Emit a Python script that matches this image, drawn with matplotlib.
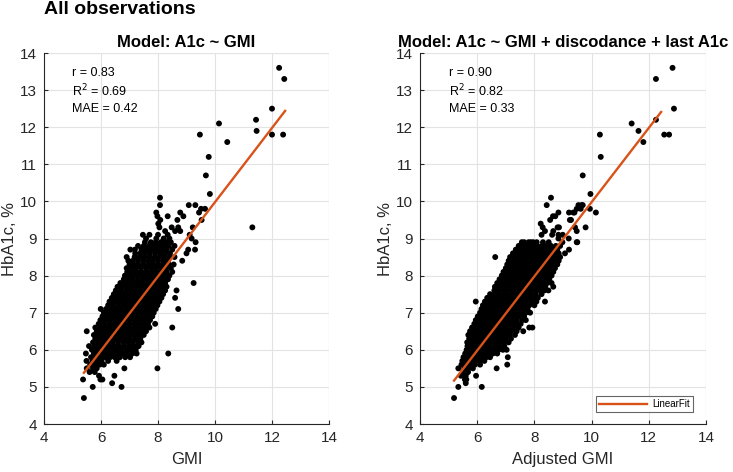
import matplotlib
matplotlib.use("Agg")
import matplotlib.pyplot as plt
import numpy as np

plt.rcParams['font.family'] = ['Liberation Sans', 'DejaVu Sans']

# ---------------- data ----------------
# Left panel: rows of (HbA1c value, [GMI values observed at that HbA1c])
left_rows = [
    (4.7, [5.40]),
    (5.0, [5.71, 6.72]),
    (5.1, [6.39]),
    (5.2, [5.37, 5.98, 6.05]),
    (5.3, [5.93, 6.47]),
    (5.4, [5.60, 5.78]),
    (5.5, [5.50, 5.72, 5.85, 6.82, 7.98]),
    (5.6, [5.62, 5.80, 5.95, 6.10]),
    (5.7, [5.49, 5.70, 5.88, 6.02, 6.25, 6.55]),
    (5.8, [5.65, 5.82, 5.98, 6.15, 6.32, 6.48, 6.66, 6.85, 7.02]),
    (5.9, [5.47, 5.75, 5.90, 6.05, 6.22, 6.40, 6.58, 6.75, 6.92, 7.10, 7.25, 8.36]),
    (6.0, [5.68, 5.85, 6.00, 6.18, 6.35, 6.52, 6.70, 6.88, 7.05, 7.22]),
    (6.1, [5.58, 5.78, 5.95, 6.12, 6.28, 6.45, 6.62, 6.80, 6.98, 7.15, 7.32]),
    (6.2, [5.72, 5.90, 6.08, 6.25, 6.42, 6.60, 6.78, 6.95, 7.12, 7.30, 7.42]),
    (6.3, [5.80, 5.98, 6.15, 6.32, 6.50, 6.68, 6.85, 7.02, 7.20, 7.38]),
    (6.4, [5.75, 5.92, 6.10, 6.28, 6.45, 6.62, 6.80, 6.98, 7.15, 7.32, 7.50]),
    (6.5, [5.50, 5.85, 6.02, 6.20, 6.38, 6.55, 6.72, 6.90, 7.08, 7.25, 7.42, 7.58]),
    (6.6, [5.80, 5.98, 6.15, 6.32, 6.50, 6.68, 6.85, 7.02, 7.20, 7.38, 7.55, 7.70, 8.50]),
    (6.7, [5.92, 6.10, 6.28, 6.45, 6.62, 6.80, 6.98, 7.15, 7.32, 7.50, 7.65, 7.90]),
    (6.8, [5.98, 6.15, 6.32, 6.50, 6.68, 6.85, 7.02, 7.20, 7.38, 7.55, 7.72]),
    (6.9, [6.05, 6.22, 6.40, 6.58, 6.75, 6.92, 7.10, 7.28, 7.45, 7.62, 7.80]),
    (7.0, [6.10, 6.28, 6.45, 6.62, 6.80, 6.98, 7.15, 7.32, 7.50, 7.68, 7.85]),
    (7.1, [5.99, 6.18, 6.35, 6.52, 6.70, 6.88, 7.05, 7.22, 7.40, 7.58, 7.75, 7.92, 8.71]),
    (7.2, [6.25, 6.42, 6.60, 6.78, 6.95, 7.12, 7.30, 7.48, 7.65, 7.82, 7.98]),
    (7.3, [6.30, 6.48, 6.65, 6.82, 7.00, 7.18, 7.35, 7.52, 7.70, 7.88, 8.05]),
    (7.4, [6.38, 6.55, 6.72, 6.90, 7.08, 7.25, 7.42, 7.60, 7.78, 7.95, 8.12, 8.60]),
    (7.5, [6.45, 6.62, 6.80, 6.98, 7.15, 7.32, 7.50, 7.68, 7.85, 8.02, 8.18]),
    (7.6, [6.52, 6.70, 6.88, 7.05, 7.22, 7.40, 7.58, 7.75, 7.92, 8.10, 8.25, 8.65]),
    (7.7, [6.58, 6.75, 6.92, 7.10, 7.28, 7.45, 7.62, 7.80, 7.98, 8.15, 8.30]),
    (7.8, [6.68, 6.85, 7.02, 7.20, 7.38, 7.55, 7.72, 7.90, 8.08, 8.25, 9.25]),
    (7.9, [6.80, 6.95, 7.12, 7.30, 7.48, 7.65, 7.82, 8.00, 8.18, 8.35]),
    (8.0, [6.84, 7.00, 7.18, 7.35, 7.52, 7.70, 7.88, 8.05, 8.22, 8.40]),
    (8.1, [6.92, 7.08, 7.25, 7.42, 7.60, 7.78, 7.95, 8.12, 8.30, 8.50]),
    (8.2, [6.90, 7.05, 7.22, 7.40, 7.58, 7.75, 7.92, 8.10, 8.28, 8.45]),
    (8.3, [7.00, 7.15, 7.32, 7.50, 7.68, 7.85, 8.02, 8.20, 8.38, 8.55]),
    (8.4, [6.96, 7.12, 7.30, 7.48, 7.65, 7.82, 8.00, 8.18, 8.35, 8.85]),
    (8.5, [6.90, 7.18, 7.35, 7.52, 7.70, 7.88, 8.05, 8.22, 8.40, 8.58]),
    (8.6, [7.20, 7.38, 7.55, 7.72, 7.90, 8.08, 8.25, 8.42, 9.00]),
    (8.7, [7.03, 7.19, 7.42, 7.60, 7.78, 7.95, 8.12, 8.30, 8.50, 9.06, 9.30]),
    (8.8, [7.30, 7.50, 7.68, 7.85, 8.02, 8.20, 8.38, 8.58]),
    (8.9, [7.54, 7.75, 7.92, 8.10, 8.15, 8.30, 8.45, 9.32]),
    (9.0, [7.58, 7.94, 8.20, 8.40, 9.18]),
    (9.1, [7.47, 7.70, 8.00, 8.34, 9.11]),
    (9.2, [8.25, 8.60, 8.78]),
    (9.3, [8.05, 8.48, 8.71, 9.22, 11.31]),
    (9.4, [8.01]),
    (9.5, [8.08, 8.68, 9.53]),
    (9.6, [7.98, 8.34, 8.89]),
    (9.7, [7.94, 8.78, 9.44]),
    (9.8, [9.51, 9.65]),
    (9.9, [8.07, 9.08, 9.31]),
    (10.1, [8.07]),
    (10.2, [9.82]),
    (10.7, [9.68]),
    (11.2, [9.78]),
    (11.6, [10.43]),
    (11.8, [9.47, 12.00, 12.39]),
    (11.9, [11.46]),
    (12.1, [10.14]),
    (12.2, [11.44]),
    (12.5, [12.00]),
    (13.3, [12.43]),
    (13.6, [12.25]),
]

# Right panel: rows of (HbA1c value, [adjusted GMI values])
right_rows = [
    (4.7, [5.19]),
    (5.0, [5.34, 6.16]),
    (5.1, [5.60]),
    (5.2, [5.57, 5.62]),
    (5.3, [5.43, 5.60, 5.96]),
    (5.4, [5.50, 5.68]),
    (5.5, [5.34, 5.55, 5.70, 5.85, 6.68]),
    (5.6, [5.45, 5.62, 5.78, 5.92, 6.10, 7.05]),
    (5.7, [5.48, 5.65, 5.80, 5.95, 6.10, 6.25]),
    (5.8, [5.52, 5.68, 5.84, 6.00, 6.16, 6.32, 6.45, 7.07]),
    (5.9, [5.58, 5.74, 5.90, 6.06, 6.22, 6.38, 6.55, 6.70]),
    (6.0, [5.63, 5.79, 5.95, 6.11, 6.27, 6.43, 6.59, 6.75, 6.90, 7.03]),
    (6.1, [5.66, 5.82, 5.98, 6.14, 6.30, 6.46, 6.62, 6.78, 6.95]),
    (6.2, [5.65, 5.81, 5.97, 6.13, 6.29, 6.45, 6.61, 6.77, 6.93, 7.10]),
    (6.3, [5.72, 5.88, 6.04, 6.20, 6.36, 6.52, 6.68, 6.84, 7.00, 7.18]),
    (6.4, [5.69, 5.85, 6.01, 6.17, 6.33, 6.49, 6.65, 6.81, 6.97, 7.13, 7.32]),
    (6.5, [5.75, 5.91, 6.07, 6.23, 6.39, 6.55, 6.71, 6.87, 7.03, 7.19, 7.38, 7.61]),
    (6.6, [5.82, 5.98, 6.14, 6.30, 6.46, 6.62, 6.78, 6.94, 7.10, 7.26, 7.45, 7.82, 7.93]),
    (6.7, [5.90, 6.06, 6.22, 6.38, 6.54, 6.70, 6.86, 7.02, 7.18, 7.34, 7.52]),
    (6.8, [5.95, 6.11, 6.27, 6.43, 6.59, 6.75, 6.91, 7.07, 7.23, 7.39, 7.58, 7.70]),
    (6.9, [6.02, 6.18, 6.34, 6.50, 6.66, 6.82, 6.98, 7.14, 7.30, 7.46, 7.64]),
    (7.0, [6.10, 6.26, 6.42, 6.58, 6.74, 6.90, 7.06, 7.22, 7.38, 7.54, 7.70, 7.85]),
    (7.1, [6.15, 6.31, 6.47, 6.63, 6.79, 6.95, 7.11, 7.27, 7.43, 7.59, 7.76]),
    (7.2, [6.20, 6.36, 6.52, 6.68, 6.84, 7.00, 7.16, 7.32, 7.48, 7.64, 7.82, 8.00]),
    (7.3, [5.95, 6.27, 6.43, 6.59, 6.75, 6.91, 7.07, 7.23, 7.39, 7.55, 7.71, 7.90, 8.07, 8.37]),
    (7.4, [6.35, 6.51, 6.67, 6.83, 6.99, 7.15, 7.31, 7.47, 7.63, 7.79, 7.96, 8.12]),
    (7.5, [6.45, 6.61, 6.77, 6.93, 7.09, 7.25, 7.41, 7.57, 7.73, 7.89, 8.05, 8.25]),
    (7.6, [6.60, 6.76, 6.92, 7.08, 7.24, 7.40, 7.56, 7.72, 7.88, 8.04, 8.20, 8.35, 8.49]),
    (7.7, [6.62, 6.78, 6.94, 7.10, 7.26, 7.42, 7.58, 7.74, 7.90, 8.06, 8.22, 8.38, 8.66]),
    (7.8, [6.70, 6.86, 7.02, 7.18, 7.34, 7.50, 7.66, 7.82, 7.98, 8.14, 8.30, 8.45, 8.60]),
    (7.9, [6.78, 6.94, 7.10, 7.26, 7.42, 7.58, 7.74, 7.90, 8.06, 8.22, 8.38, 8.52]),
    (8.0, [6.86, 7.02, 7.18, 7.34, 7.50, 7.66, 7.82, 7.98, 8.14, 8.30, 8.46, 8.60]),
    (8.1, [6.92, 7.08, 7.24, 7.40, 7.56, 7.72, 7.88, 8.04, 8.20, 8.36, 8.52, 8.66]),
    (8.2, [7.00, 7.16, 7.32, 7.48, 7.64, 7.80, 7.96, 8.12, 8.28, 8.44, 8.60, 8.72]),
    (8.3, [7.05, 7.21, 7.37, 7.53, 7.69, 7.85, 8.01, 8.17, 8.33, 8.49, 8.65, 8.80]),
    (8.4, [7.10, 7.26, 7.42, 7.58, 7.74, 7.90, 8.06, 8.22, 8.38, 8.54, 8.70, 8.85]),
    (8.5, [6.63, 7.15, 7.31, 7.47, 7.63, 7.79, 7.95, 8.11, 8.27, 8.43, 8.59, 8.75, 8.90]),
    (8.6, [7.25, 7.41, 7.57, 7.73, 7.89, 8.05, 8.21, 8.37, 8.53, 8.69, 8.85, 9.07]),
    (8.7, [7.35, 7.51, 7.67, 7.83, 7.99, 8.15, 8.31, 8.47, 8.63, 8.80, 9.21]),
    (8.8, [7.45, 7.62, 7.78, 7.94, 8.10, 8.26, 8.42, 8.58, 8.75, 8.90]),
    (8.9, [7.56, 7.64, 7.80, 7.88, 7.96, 8.08, 8.30, 8.50, 8.98, 9.48, 9.50]),
    (9.0, [8.84, 9.20]),
    (9.1, [8.25, 8.62, 8.84, 8.99]),
    (9.2, [8.37, 8.66, 9.48]),
    (9.3, [8.29, 8.81, 8.86, 9.42, 9.79]),
    (9.4, [8.22]),
    (9.5, [8.55, 9.24, 9.28]),
    (9.6, [8.65, 8.73]),
    (9.7, [8.84, 9.21, 9.36, 9.40, 10.15]),
    (9.8, [9.48, 9.62, 9.94]),
    (9.9, [8.43, 9.54, 9.65, 9.69]),
    (10.1, [8.58]),
    (10.2, [9.96]),
    (10.7, [9.69]),
    (11.2, [10.32]),
    (11.6, [11.81]),
    (11.8, [10.29, 12.54, 12.71]),
    (11.9, [11.64]),
    (12.1, [11.40]),
    (12.2, [12.25]),
    (12.5, [12.88]),
    (13.3, [12.25]),
    (13.6, [12.83]),
]

# Linear-fit lines: (slope, intercept) and the x-range over which each is drawn
left_fit = (1.00, -0.02)
left_fit_range = (5.40, 12.46)
right_fit = (1.00, -0.02)
right_fit_range = (5.19, 12.43)

left_stats = ["r = 0.83", "R$^2$ = 0.69", "MAE = 0.42"]
right_stats = ["r = 0.90", "R$^2$ = 0.82", "MAE = 0.33"]

titles = ["Model: A1c ~ GMI", "Model: A1c ~ GMI + discodance + last A1c"]
xlabels = ["GMI", "Adjusted GMI"]
ylabel = "HbA1c, %"
suptitle = "All observations"
ticks = [4, 6, 8, 10, 12, 14]


def flatten(rows):
    xs, ys = [], []
    for a1c, gmis in rows:
        for g in gmis:
            xs.append(g)
            ys.append(a1c)
    return np.array(xs), np.array(ys)


W, H = 733, 472
fig = plt.figure(figsize=(W / 100, H / 100), dpi=100)

axes_px = [(44, 329), (420, 706)]
top_px, bot_px = 53, 424

DARK = '#262626'
GRID = '#e3e3e3'
ORANGE = '#D95319'

panels = [(left_rows, left_fit, left_fit_range, left_stats),
          (right_rows, right_fit, right_fit_range, right_stats)]

for i, (rows, fit, frange, stats) in enumerate(panels):
    x0, x1 = axes_px[i]
    ax = fig.add_axes([x0 / W, 1 - bot_px / H, (x1 - x0) / W, (bot_px - top_px) / H])
    xs, ys = flatten(rows)
    ax.scatter(xs, ys, s=18, c='black', edgecolors='none', zorder=3)
    fx = np.array(frange)
    ax.plot(fx, fit[0] * fx + fit[1], color=ORANGE, lw=1.7, zorder=4, label='LinearFit')

    ax.set_xlim(4, 14)
    ax.set_ylim(4, 14)
    ax.set_xticks(ticks)
    ax.set_yticks(range(4, 15))
    ax.grid(True, color=GRID, lw=0.8, zorder=0)
    ax.set_axisbelow(True)
    for s in ['top', 'right']:
        ax.spines[s].set_visible(False)
    for s in ['left', 'bottom']:
        ax.spines[s].set_color(DARK)
        ax.spines[s].set_linewidth(0.8)
    ax.tick_params(direction='in', length=3, width=0.8, colors=DARK,
                   labelsize=11, pad=5)
    ax.axhline(14, color=GRID, lw=0.8, zorder=0)
    ax.axvline(14, color=GRID, lw=0.8, zorder=0)

    ax.set_title(titles[i], fontsize=12, fontweight='bold', pad=4, color='black')
    ax.set_xlabel(xlabels[i], fontsize=12, color=DARK, labelpad=5)
    ax.set_ylabel(ylabel, fontsize=12, color=DARK, labelpad=2)

    for k, t in enumerate(stats):
        ax.text(5.0, 13.47 - 0.49 * k, t, fontsize=9, color='black',
                ha='left', va='center')

    if i == 1:
        leg = ax.legend(loc='lower right', fontsize=7, frameon=True, fancybox=False,
                        edgecolor='#404040', handlelength=4.9, handletextpad=0.6,
                        borderpad=0.3, borderaxespad=0,
                        bbox_to_anchor=(0.955, 0.032))
        leg.get_frame().set_linewidth(0.8)

fig.text(44 / W, 1 - 10 / H, suptitle, fontsize=14, fontweight='bold',
         ha='left', va='center')

fig.savefig('out.png', dpi=100)
